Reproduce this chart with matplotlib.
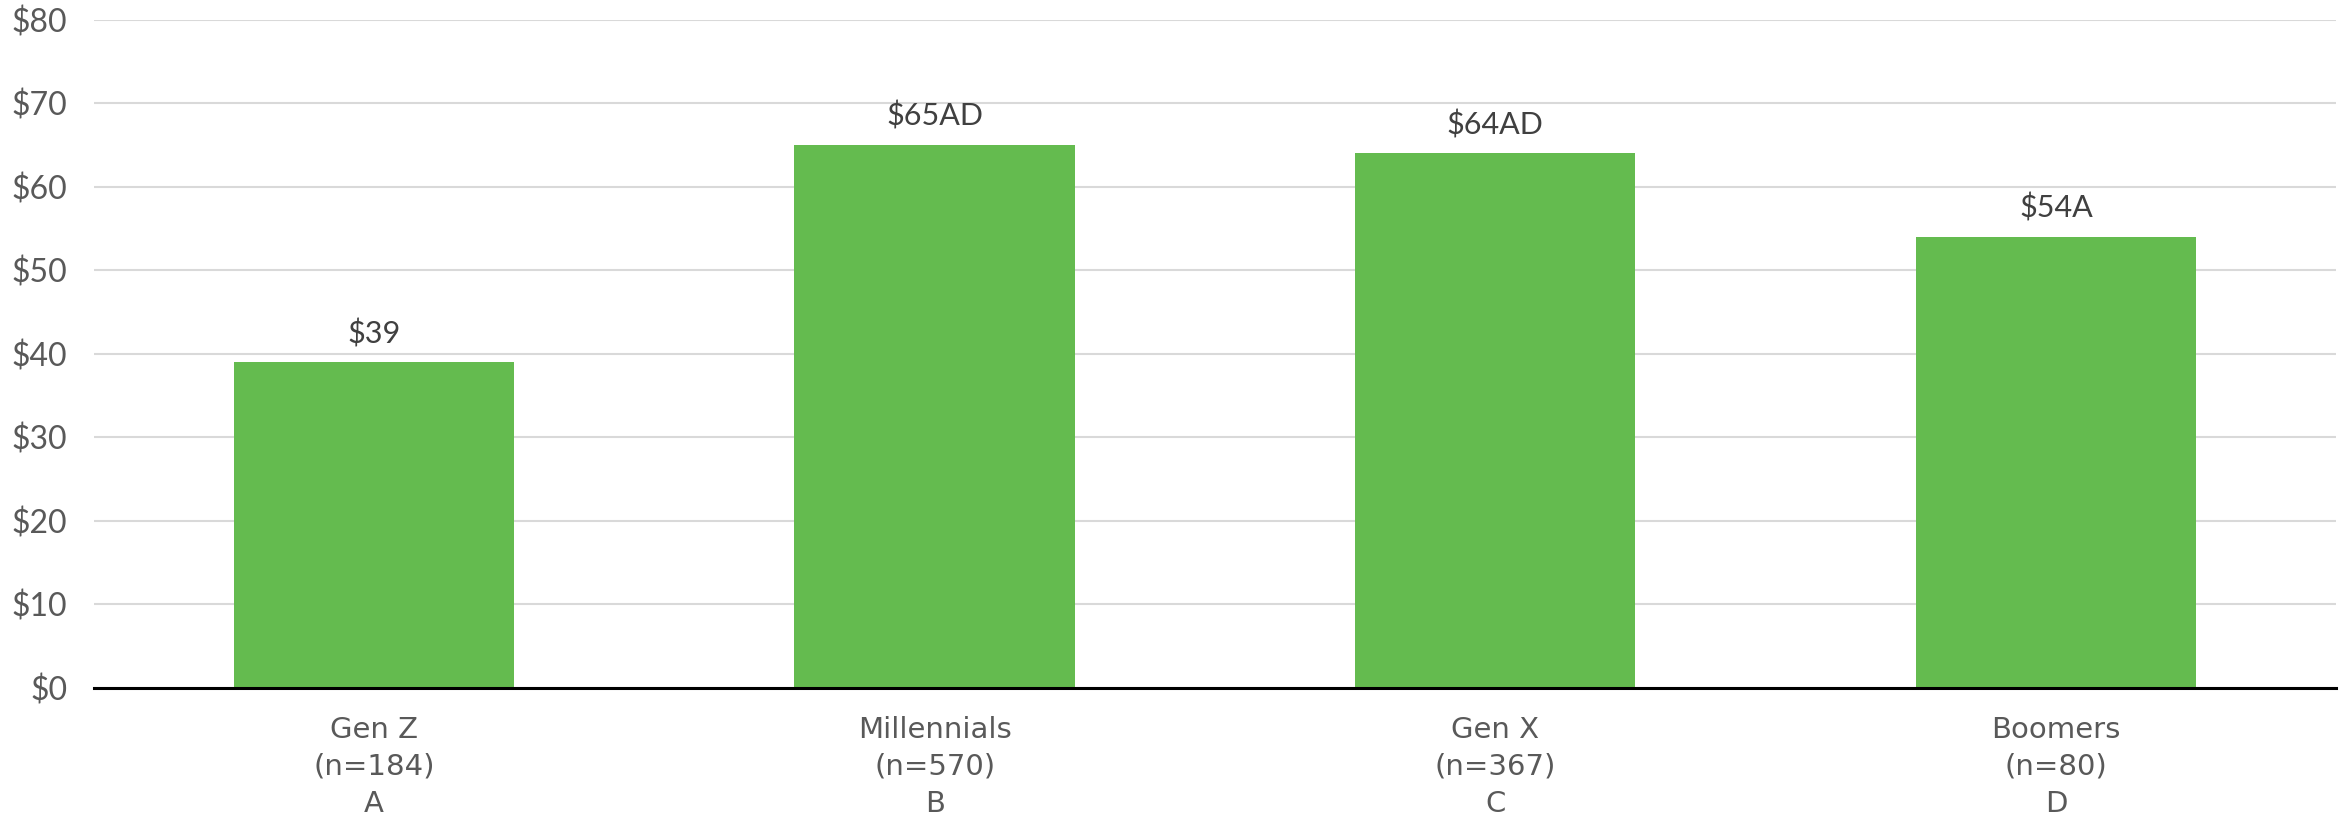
import matplotlib
matplotlib.use("Agg")
import matplotlib.pyplot as plt
from matplotlib.ticker import FuncFormatter, MultipleLocator

categories = ["Gen Z", "Millennials", "Gen X", "Boomers"]
sample_sizes = [184, 570, 367, 80]
group_letters = ["A", "B", "C", "D"]
values = [39, 65, 64, 54]
sig_marks = ["", "AD", "AD", "A"]

plt.rcParams["font.family"] = ["Lato", "DejaVu Sans"]

fig = plt.figure(figsize=(23.41, 8.15), dpi=100)
ax = fig.add_axes([0.040, 0.156, 0.958, 0.820])

bar_color = "#64BB4F"
x = range(len(categories))
ax.bar(x, values, width=0.5, color=bar_color, zorder=2)

for xi, v, m in zip(x, values, sig_marks):
    ax.annotate(f"${v}{m}", (xi, v), xytext=(0, 10), textcoords="offset points",
                ha="center", va="bottom", fontsize=22, color="#404040")

ax.set_xlim(-0.5, len(categories) - 0.5)
ax.set_ylim(0, 80)
ax.yaxis.set_major_locator(MultipleLocator(10))
ax.yaxis.set_major_formatter(FuncFormatter(lambda v, p: f"${v:.0f}"))
ax.grid(axis="y", color="#d9d9d9", linewidth=1.5, zorder=0)
ax.set_axisbelow(True)

for s in ["top", "right", "left"]:
    ax.spines[s].set_visible(False)
ax.spines["bottom"].set_color("black")
ax.spines["bottom"].set_linewidth(2.2)
ax.spines["bottom"].set_zorder(3)

ax.tick_params(axis="y", length=0, labelsize=23, labelcolor="#595959", pad=19)
ax.tick_params(axis="x", length=0, pad=20)
ax.set_xticks(list(x))
ax.set_xticklabels([f"{c}\n(n={n})\n{g}" for c, n, g in zip(categories, sample_sizes, group_letters)],
                   fontsize=21, color="#595959", linespacing=1.42,
                   family=["Liberation Sans Narrow", "DejaVu Sans"])

fig.savefig("out.png", dpi=100, facecolor="white")
